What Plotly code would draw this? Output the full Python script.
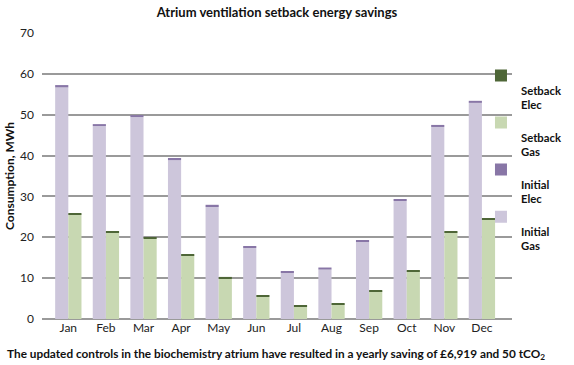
import plotly.graph_objects as go

months = ["Jan", "Feb", "Mar", "Apr", "May", "Jun", "Jul", "Aug", "Sep", "Oct", "Nov", "Dec"]
initial_gas = [56.7, 47.2, 49.4, 38.9, 27.5, 17.4, 11.3, 12.1, 18.9, 28.9, 47.0, 52.9]
initial_elec = [0.55, 0.5, 0.5, 0.5, 0.45, 0.45, 0.4, 0.5, 0.4, 0.45, 0.5, 0.5]
setback_gas = [25.6, 21.2, 19.7, 15.6, 10.0, 5.4, 3.1, 3.6, 6.8, 11.7, 21.2, 24.4]
setback_elec = [0.3, 0.3, 0.3, 0.3, 0.3, 0.3, 0.3, 0.3, 0.3, 0.3, 0.3, 0.3]
yticks = [0, 10, 20, 30, 40, 50, 60, 70]

FONT = "Lato"
W = 0.35

fig = go.Figure()
fig.add_trace(go.Bar(x=months, y=initial_gas, name=" <br><b>Initial</b><br><b>Gas</b>", width=W, offset=-W,
                     marker=dict(color="#CDC6DB", line=dict(width=0))))
fig.add_trace(go.Bar(x=months, y=initial_elec, base=initial_gas, name=" <br><b>Initial</b><br><b>Elec</b>", width=W, offset=-W,
                     marker=dict(color="#8876A6", line=dict(width=0))))
fig.add_trace(go.Bar(x=months, y=setback_gas, name=" <br><b>Setback</b><br><b>Gas</b>", width=W, offset=0,
                     marker=dict(color="#C8D8B2", line=dict(width=0))))
fig.add_trace(go.Bar(x=months, y=setback_elec, base=setback_gas, name=" <br><b>Setback</b><br><b>Elec</b>", width=W, offset=0,
                     marker=dict(color="#4E6637", line=dict(width=0))))

fig.update_layout(
    width=574, height=365,
    margin=dict(l=42, r=62, t=33, b=46, autoexpand=False),
    paper_bgcolor="white", plot_bgcolor="white",
    barmode="overlay",
    font=dict(family=FONT, size=12, color="#222222"),
    title=dict(text="<b>Atrium ventilation setback energy savings</b>", xref="paper", x=0.5, xanchor="center",
               yref="container", y=0.965, yanchor="middle", font=dict(family=FONT, size=13, color="#111111")),
    xaxis=dict(type="category", range=[-0.7, 11.8], showgrid=False, showline=False, ticks="",
               automargin=False, tickfont=dict(family=FONT, size=12, color="#222222")),
    yaxis=dict(range=[0, 70], tickvals=yticks, showgrid=True, gridcolor="#9A9A9A", gridwidth=2,
               zeroline=True, zerolinecolor="#9A9A9A", zerolinewidth=2, showline=False, ticks="",
               ticklabelstandoff=7, automargin=False,
               tickfont=dict(family=FONT, size=12, color="#222222"),
               title=dict(text="<b>Consumption, MWh</b>", font=dict(family=FONT, size=12, color="#111111"),
                          standoff=2)),
    legend=dict(x=0.934, xanchor="left", y=0.9, yanchor="top", traceorder="reversed",
                valign="top", itemsizing="constant", tracegroupgap=0,
                font=dict(family=FONT, size=11.3, color="#111111"), bgcolor="rgba(0,0,0,0)",
                itemwidth=30),
    annotations=[dict(text="<b>The updated controls in the biochemistry atrium have resulted in a yearly saving of £6,919 and 50 tCO<sub>2</sub></b>",
                      xref="paper", yref="paper", x=-0.0787, y=-0.122, xanchor="left", yanchor="middle",
                      showarrow=False, font=dict(family=FONT, size=11.8, color="#111111"))],
)
fig.write_html("out.html", config={"displayModeBar": False},
               post_script="document.body.style.margin='0';document.body.style.padding='0';")
